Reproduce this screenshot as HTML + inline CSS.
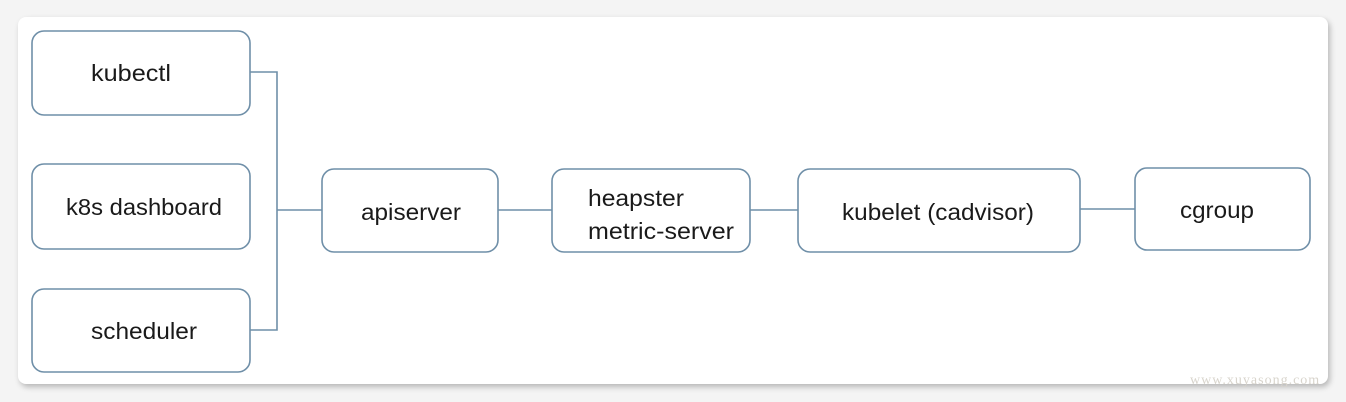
<!DOCTYPE html>
<html><head><style>
body{margin:0;width:1346px;height:402px;background:#f4f4f4;overflow:hidden;font-family:"Liberation Sans",sans-serif;}
.card{position:absolute;left:18px;top:17px;width:1310px;height:367px;background:#fff;border-radius:8px;box-shadow:2px 3px 6px rgba(0,0,0,0.25);}
svg{position:absolute;left:0;top:0}
text{font-family:"Liberation Sans",sans-serif;font-size:23px;fill:#1a1a1a}
.wm{font-family:"Liberation Serif",serif;font-size:14px;fill:#d8d4cc;letter-spacing:1px}
</style></head><body>
<div class="card"></div>
<svg width="1346" height="402">
<g fill="none" stroke="#6f8fa8" stroke-width="1.6">
<rect x="32" y="31" width="218" height="84" rx="12"/>
<rect x="32" y="164" width="218" height="85" rx="12"/>
<rect x="32" y="289" width="218" height="83" rx="12"/>
<rect x="322" y="169" width="176" height="83" rx="12"/>
<rect x="552" y="169" width="198" height="83" rx="12"/>
<rect x="798" y="169" width="282" height="83" rx="12"/>
<rect x="1135" y="168" width="175" height="82" rx="12"/>
<path d="M250 72H277V330H250M277 210H322M498 210H552M750 210H798M1080 209H1135"/>
</g>
<text x="91" y="81" textLength="80" lengthAdjust="spacingAndGlyphs">kubectl</text>
<text x="66" y="215" textLength="156" lengthAdjust="spacingAndGlyphs">k8s dashboard</text>
<text x="91" y="339" textLength="106" lengthAdjust="spacingAndGlyphs">scheduler</text>
<text x="361" y="220" textLength="100" lengthAdjust="spacingAndGlyphs">apiserver</text>
<text x="588" y="206" textLength="96" lengthAdjust="spacingAndGlyphs">heapster</text>
<text x="588" y="239" textLength="146" lengthAdjust="spacingAndGlyphs">metric-server</text>
<text x="842" y="220" textLength="192" lengthAdjust="spacingAndGlyphs">kubelet (cadvisor)</text>
<text x="1180" y="218" textLength="74" lengthAdjust="spacingAndGlyphs">cgroup</text>
<text class="wm" x="1190" y="384">www.xuyasong.com</text>
</svg>
</body></html>
